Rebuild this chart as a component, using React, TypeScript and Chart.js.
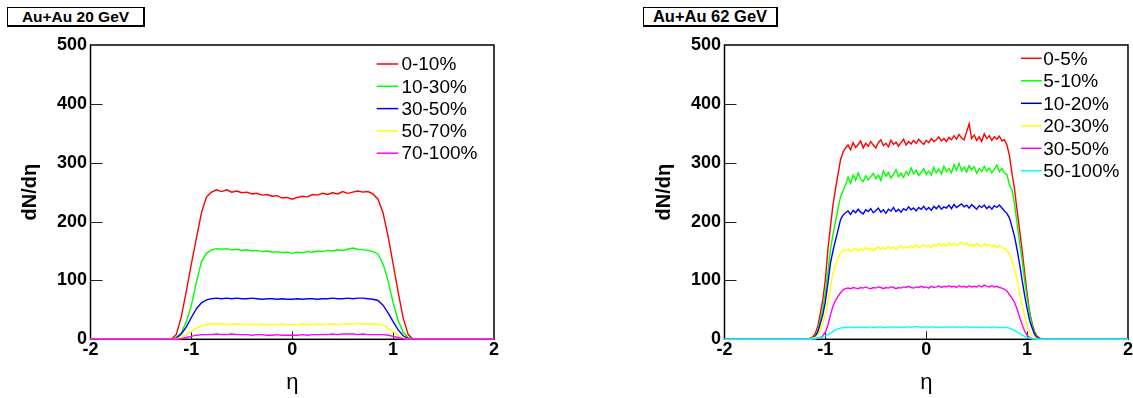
import React, { useEffect, useRef } from 'react';
import { Chart, registerables } from 'chart.js';

Chart.register(...registerables);

// ---------- Au+Au 20 GeV ----------
const ETA_20 = [-2, -1.25, -1.2, -1.15, -1.1, -1.05, -1, -0.95, -0.9, -0.85, -0.8, -0.75, -0.7, -0.65, -0.6, -0.55, -0.5, -0.45, -0.4, -0.35, -0.3, -0.25, -0.2, -0.15, -0.1, -0.05, 0, 0.05, 0.1, 0.15, 0.2, 0.25, 0.3, 0.35, 0.4, 0.45, 0.5, 0.55, 0.6, 0.65, 0.7, 0.75, 0.8, 0.85, 0.9, 0.95, 1, 1.05, 1.1, 1.15, 1.2, 1.25, 2];

const AU20_0_10 = [0, 0, 0, 8, 38, 82, 128, 172, 215, 242,
  250, 254, 251, 254, 250, 252, 249, 250, 247, 248, 245, 246, 243, 244, 240, 241, 238, 241, 243, 242, 246, 245, 248, 246, 249, 247, 251, 248, 250, 252, 250, 251, 247,
  238, 215, 175, 128, 80, 36, 8, 0, 0, 0];
const AU20_10_30 = [0, 0, 0, 3, 11, 30, 58, 97, 132, 146,
  152, 154, 153, 154, 152, 153, 151, 152, 150, 151, 149, 150, 148, 149, 147, 148, 146, 148, 147, 149, 148, 150, 149, 151, 150, 152, 151, 153, 155, 153, 152, 151, 149,
  145, 128, 100, 62, 32, 12, 3, 0, 0, 0];
const AU20_30_50 = [0, 0, 0, 2, 9, 21, 37, 52, 62, 67,
  69, 70, 69, 70, 69, 70, 69, 69, 70, 69, 68, 69, 69, 68, 69, 68, 68, 69, 68, 69, 69, 68, 69, 69, 70, 69, 69, 70, 69, 70, 70, 69, 68,
  66, 58, 45, 30, 16, 6, 1, 0, 0, 0];
const AU20_50_70 = [0, 0, 0, 1, 3, 8, 13, 19, 23, 25,
  26, 26, 26, 25, 26, 26, 25, 26, 25, 25, 26, 25, 25, 25, 26, 25, 25, 25, 26, 25, 25, 26, 25, 26, 26, 25, 26, 26, 26, 27, 26, 26, 26,
  26, 24, 19, 13, 7, 2, 0, 0, 0, 0];
const AU20_70_100 = [0, 0, 0, 0, 1, 3, 5, 7, 8, 8,
  8, 9, 8, 8, 9, 8, 8, 8, 7, 8, 8, 7, 7, 8, 7, 7, 7, 7, 8, 7, 8, 8, 8, 8, 9, 8, 9, 9, 9, 8, 9, 8, 8,
  8, 8, 7, 5, 3, 1, 0, 0, 0, 0];

const LABELS_20 = ['0-10%', '10-30%', '30-50%', '50-70%', '70-100%'];
const COLORS_20 = ['#ff0000', '#00ff00', '#0000ff', '#ffff00', '#ff00ff'];

// ---------- Au+Au 62 GeV ----------
const ETA_62 = [-2,
  -1.2, -1.175, -1.15, -1.125, -1.1, -1.075, -1.05, -1.025, -1, -0.975, -0.95, -0.925, -0.9, -0.875, -0.85, -0.825, -0.8,
  -0.775, -0.75, -0.725, -0.7, -0.675, -0.65, -0.625, -0.6, -0.575, -0.55, -0.525, -0.5, -0.475, -0.45, -0.425, -0.4,
  -0.375, -0.35, -0.325, -0.3, -0.275, -0.25, -0.225, -0.2, -0.175, -0.15, -0.125, -0.1, -0.075, -0.05, -0.025, 0,
  0.025, 0.05, 0.075, 0.1, 0.125, 0.15, 0.175, 0.2, 0.225, 0.25, 0.275, 0.3, 0.325, 0.35, 0.375, 0.4,
  0.425, 0.45, 0.475, 0.5, 0.525, 0.55, 0.575, 0.6, 0.625, 0.65, 0.675, 0.7, 0.725, 0.75, 0.775,
  0.8, 0.825, 0.85, 0.875, 0.9, 0.925, 0.95, 0.975, 1, 1.025, 1.05, 1.075, 1.1, 1.125, 1.15, 1.175, 1.2,
  2];

const AU62_0_5 = [0,
  0, 0, 2, 4, 10, 22, 44, 68, 102, 152, 191, 228, 255, 280, 305, 318, 325,
  330, 322, 334, 326, 331, 337, 325, 333, 328, 336,
  330, 325, 334, 339, 329, 333, 327, 338, 331, 335,
  328, 334, 340, 330, 336, 332, 338, 333, 340, 335,
  331, 338, 334, 341, 336, 339, 344, 337, 341, 336,
  343, 339, 346, 340, 348, 342, 339, 352, 366, 341,
  347, 338, 344, 336, 349, 341, 346, 338, 344, 340,
  345, 337, 339,
  330, 312, 282, 255, 220, 186, 152, 114, 78, 46, 27, 12, 5, 2, 1, 0, 0,
  0];
const AU62_5_10 = [0,
  0, 0, 1, 3, 6, 15, 33, 52, 80, 115, 152, 178, 200, 222, 242, 252, 262,
  276, 265, 279, 270, 283, 272, 268, 278, 271, 276,
  282, 273, 279, 270, 286, 277, 283, 274, 280, 288,
  276, 282, 275, 285, 279, 291, 281, 287, 278, 284,
  290, 280, 286, 279, 292, 283, 289, 281, 294, 285,
  290, 283, 297, 287, 299, 286, 292, 284, 295, 288,
  293, 282, 290, 285, 294, 286, 291, 283, 289, 296,
  285, 290, 282,
  280, 262, 254, 230, 198, 165, 135, 100, 70, 44, 24, 10, 4, 1, 0, 0, 0,
  0];
const AU62_10_20 = [0,
  0, 0, 1, 2, 5, 12, 27, 42, 64, 95, 129, 150, 168, 185, 203, 211, 215,
  218, 212, 219, 215, 221, 216, 213, 220, 217, 222,
  215, 219, 223, 216, 220, 214, 221, 218, 224, 217,
  221, 216, 222, 219, 225, 220, 223, 218, 224, 221,
  226, 220, 224, 219, 226, 222, 227, 221, 225, 223,
  228, 222, 229, 224, 227, 230, 225, 228, 223, 229,
  225, 221, 227, 224, 228, 222, 226, 221, 227, 224,
  228, 223, 218,
  214, 206, 191, 175, 153, 128, 101, 75, 52, 32, 19, 8, 3, 1, 0, 0, 0,
  0];
const AU62_20_30 = [0,
  0, 0, 1, 2, 3, 7, 16, 28, 42, 63, 89, 112, 126, 138, 146, 151, 150,
  153, 149, 152, 155, 150, 154, 151, 156, 152, 155,
  150, 154, 157, 152, 156, 153, 158, 154, 157, 152,
  156, 159, 154, 157, 155, 159, 156, 160, 155, 158,
  161, 157, 160, 156, 161, 158, 163, 159, 162, 158,
  164, 160, 163, 159, 162, 165, 160, 163, 159, 162,
  158, 163, 160, 157, 162, 159, 161, 157, 160, 156,
  159, 157, 154,
  150, 145, 133, 120, 101, 80, 58, 40, 24, 13, 6, 3, 1, 0, 0, 0, 0,
  0];
const AU62_30_50 = [0,
  0, 0, 0, 0, 1, 2, 3, 6, 12, 24, 41, 56, 66, 73, 79, 84, 86,
  87, 86, 88, 87, 86, 88, 87, 89, 87, 86,
  88, 87, 89, 88, 86, 88, 87, 89, 88, 86,
  88, 87, 89, 88, 90, 88, 87, 89, 88, 90,
  88, 89, 87, 90, 88, 89, 91, 88, 90, 89,
  91, 89, 90, 88, 91, 89, 90, 88, 91, 89,
  90, 89, 91, 89, 92, 90, 89, 91, 89, 90,
  88, 87, 85,
  82, 76, 70, 63, 52, 38, 25, 14, 7, 3, 1, 0, 0, 0, 0, 0, 0,
  0];
const AU62_50_100 = [0,
  0, 0, 0, 1, 1, 2, 3, 4, 6, 8, 10, 13, 16, 18, 19, 20, 20,
  20, 21, 20, 20, 21, 20, 21, 20, 20, 21,
  20, 20, 21, 21, 20, 20, 21, 20, 21, 21,
  20, 21, 20, 21, 21, 20, 21, 22, 21, 20,
  21, 21, 20, 21, 21, 20, 21, 20, 21, 21,
  20, 21, 21, 20, 21, 20, 21, 21, 20, 21,
  20, 21, 20, 21, 20, 21, 20, 20, 21, 20,
  20, 20, 20,
  20, 19, 17, 15, 12, 10, 7, 5, 3, 2, 1, 1, 0, 0, 0, 0, 0,
  0];

const LABELS_62 = ['0-5%', '5-10%', '10-20%', '20-30%', '30-50%', '50-100%'];
const COLORS_62 = ['#ff0000', '#00ff00', '#0000ff', '#ffff00', '#ff00ff', '#00ffff'];
const LEGEND_COLORS_62 = ['#ff0000', '#00ff00', '#00008b', '#ffff00', '#ff00ff', '#00ffff'];

// ---------- axes ----------
const X_TICKS = [-2, -1, 0, 1, 2];
const Y_TICKS = [0, 100, 200, 300, 400, 500];
const X_TITLE = 'η';
const Y_TITLE = 'dN/dη';

const FONT = '"Liberation Sans", Arial, Helvetica, sans-serif';

const rootPlugin = {
  id: 'rootStyle',
  beforeDatasetsDraw(chart: any) {
    const { ctx, chartArea: a, scales } = chart;
    ctx.save();
    ctx.strokeStyle = '#222';
    ctx.lineWidth = 1;
    ctx.beginPath();
    for (const v of Y_TICKS) {
      if (v === Y_TICKS[0] || v === Y_TICKS[Y_TICKS.length - 1]) continue;
      const y = Math.round(scales.y.getPixelForValue(v)) + 0.5;
      ctx.moveTo(a.left, y);
      ctx.lineTo(a.left + 12, y);
    }
    for (const v of X_TICKS) {
      if (v === X_TICKS[0] || v === X_TICKS[X_TICKS.length - 1]) continue;
      const x = Math.round(scales.x.getPixelForValue(v)) + 0.5;
      ctx.moveTo(x, a.bottom);
      ctx.lineTo(x, a.bottom - 8);
    }
    ctx.stroke();
    ctx.strokeStyle = '#000';
    ctx.lineWidth = 1.5;
    ctx.strokeRect(a.left, a.top, a.right - a.left, a.bottom - a.top);
    ctx.restore();
  },
  afterDraw(chart: any, _args: any, opts: any) {
    const { ctx, chartArea: a } = chart;
    ctx.save();
    ctx.font = `${opts.fontSize}px ${FONT}`;
    ctx.textBaseline = 'middle';
    ctx.textAlign = 'left';
    chart.data.datasets.forEach((ds: any, i: number) => {
      const y = a.top + opts.top + i * opts.spacing;
      ctx.strokeStyle = opts.colors[i];
      ctx.lineWidth = 1.5;
      ctx.beginPath();
      ctx.moveTo(a.right - opts.lineFrom, y);
      ctx.lineTo(a.right - opts.lineTo, y);
      ctx.stroke();
      ctx.fillStyle = '#000';
      ctx.fillText(ds.label, a.right - opts.textX, y + 1);
    });
    ctx.restore();
  },
};

function makeConfig(eta: number[], series: number[][], labels: string[], colors: string[], legend: any): any {
  return {
    type: 'line',
    data: {
      datasets: series.map((vals, i) => ({
        label: labels[i],
        data: vals.map((y, k) => ({ x: eta[k], y })),
        borderColor: colors[i],
        backgroundColor: colors[i],
        borderWidth: 1.4,
        pointRadius: 0,
        tension: 0,
        fill: false,
        order: series.length - i,
        clip: 4,
      })),
    },
    options: {
      responsive: false,
      animation: false,
      devicePixelRatio: 1,
      events: [],
      layout: { padding: { top: 45, right: 5, bottom: 0, left: 0 } },
      scales: {
        x: {
          type: 'linear',
          min: X_TICKS[0],
          max: X_TICKS[X_TICKS.length - 1],
          afterBuildTicks: (s: any) => { s.ticks = X_TICKS.map((v) => ({ value: v })); },
          ticks: { color: '#000', font: { family: FONT, size: 18, weight: 'bold' }, padding: 0, maxRotation: 0, autoSkip: false },
          grid: { display: false, drawTicks: false },
          border: { display: false },
          title: { display: true, text: X_TITLE, color: '#000', font: { family: FONT, size: 22 }, padding: { top: 0, bottom: 2 } },
          afterFit: (s: any) => { s.height = 58.7; },
        },
        y: {
          type: 'linear',
          min: Y_TICKS[0],
          max: Y_TICKS[Y_TICKS.length - 1],
          afterBuildTicks: (s: any) => { s.ticks = Y_TICKS.map((v) => ({ value: v })); },
          ticks: { color: '#000', font: { family: FONT, size: 18, weight: 'bold' }, padding: 3.4, autoSkip: false },
          grid: { display: false, drawTicks: false },
          border: { display: false },
          title: { display: true, text: Y_TITLE, color: '#000', font: { family: FONT, size: 20, weight: 'bold' }, padding: { top: 18, bottom: 0 } },
          afterFit: (s: any) => { s.width = 90.5; },
        },
      },
      plugins: {
        legend: { display: false },
        tooltip: { enabled: false },
        rootStyle: legend,
      },
    },
    plugins: [rootPlugin],
  };
}

function Panel({ left, config }: { left: number; config: any }) {
  const ref = useRef<HTMLCanvasElement | null>(null);
  useEffect(() => {
    if (!ref.current) return;
    const chart = new Chart(ref.current, config);
    return () => chart.destroy();
  }, [config]);
  return (
    <canvas
      ref={ref}
      width={499}
      height={398}
      style={{ position: 'absolute', left, top: 0, width: 499, height: 398 }}
    />
  );
}

const config20 = makeConfig(
  ETA_20,
  [AU20_0_10, AU20_10_30, AU20_30_50, AU20_50_70, AU20_70_100],
  LABELS_20,
  COLORS_20,
  { colors: COLORS_20, lineFrom: 117.3, lineTo: 95.7, textX: 92.6, top: 19, spacing: 22.3, fontSize: 19 }
);
const config62 = makeConfig(
  ETA_62,
  [AU62_0_5, AU62_5_10, AU62_10_20, AU62_20_30, AU62_30_50, AU62_50_100],
  LABELS_62,
  COLORS_62,
  { colors: LEGEND_COLORS_62, lineFrom: 107, lineTo: 86.3, textX: 84.7, top: 13.3, spacing: 22.5, fontSize: 19 }
);

function TitleBox({ text, left, top, width, height, size }: any) {
  return (
    <div
      style={{
        position: 'absolute',
        left,
        top,
        width,
        height,
        boxSizing: 'border-box',
        border: '1px solid #000',
        borderRightWidth: 2,
        borderBottomWidth: 2,
        background: '#fff',
        display: 'flex',
        alignItems: 'center',
        justifyContent: 'center',
        fontFamily: FONT,
        fontWeight: 'bold',
        fontSize: size,
        color: '#000',
        lineHeight: 1,
        whiteSpace: 'nowrap',
      }}
    >
      {text}
    </div>
  );
}

export default function App() {
  return (
    <div style={{ position: 'absolute', left: 0, top: 0, width: 1133, height: 398, background: '#fff', overflow: 'hidden' }}>
      <Panel left={0} config={config20} />
      <Panel left={634} config={config62} />
      <TitleBox text="Au+Au 20 GeV" left={7} top={7} width={138} height={20} size={15.5} />
      <TitleBox text="Au+Au 62 GeV" left={643} top={7} width={135} height={20} size={16.5} />
    </div>
  );
}
